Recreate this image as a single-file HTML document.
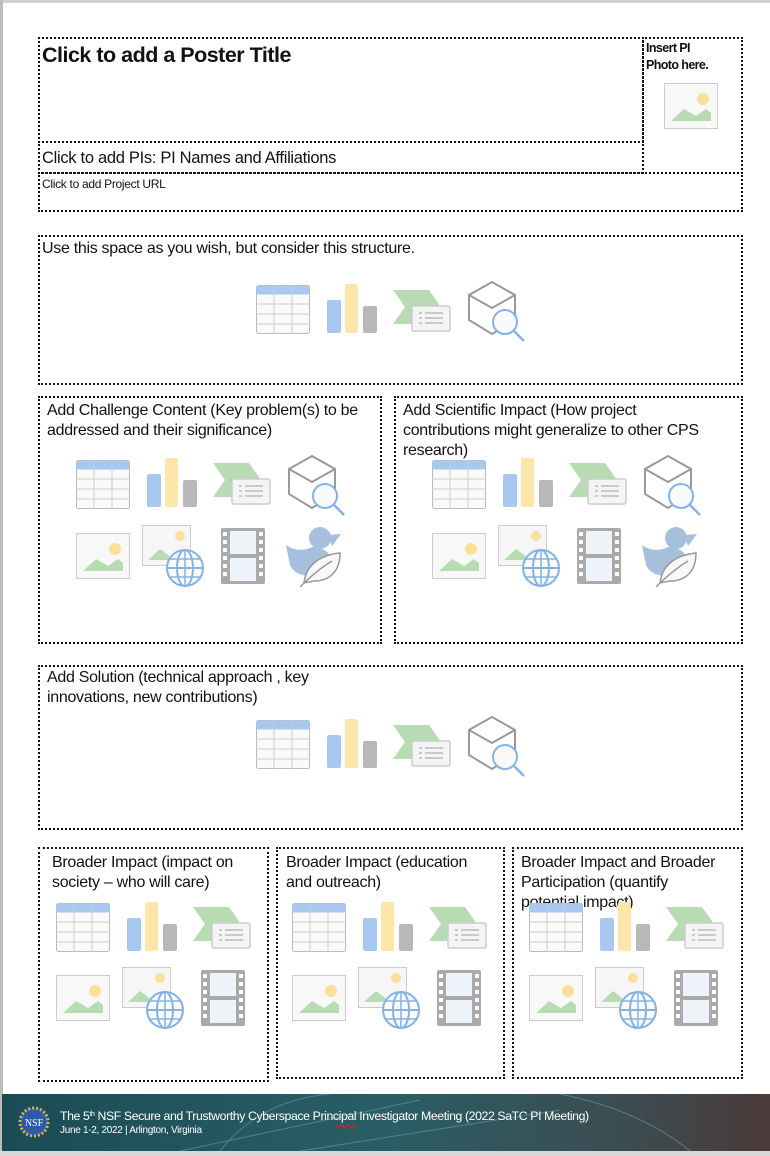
<!DOCTYPE html>
<html><head><meta charset="utf-8">
<style>
*{margin:0;padding:0;box-sizing:border-box}
body{width:770px;height:1156px;background:#fff;position:relative;overflow:hidden;font-family:"Liberation Sans",sans-serif;color:#111}
.b{position:absolute;border:2px dotted #111}
.t{position:absolute;font-size:16px;line-height:20px;letter-spacing:-0.3px;white-space:nowrap}
svg{position:absolute;left:0;top:0}
</style></head><body>
<div style="position:absolute;left:0;top:0;width:770px;height:3px;background:#d0d0d0"></div>
<div style="position:absolute;left:0;top:0;width:3px;height:1156px;background:#bdbdbd"></div>

<div class="b" style="left:38px;top:37px;width:606px;height:106px"></div>
<div class="b" style="left:642px;top:37px;width:101px;height:137px"></div>
<div class="b" style="left:38px;top:141px;width:606px;height:33px"></div>
<div class="b" style="left:38px;top:172px;width:705px;height:40px"></div>
<div class="b" style="left:38px;top:235px;width:705px;height:150px"></div>
<div class="b" style="left:38px;top:396px;width:344px;height:248px"></div>
<div class="b" style="left:394px;top:396px;width:349px;height:248px"></div>
<div class="b" style="left:38px;top:665px;width:705px;height:165px"></div>
<div class="b" style="left:38px;top:847px;width:231px;height:235px"></div>
<div class="b" style="left:276px;top:847px;width:229px;height:232px"></div>
<div class="b" style="left:512px;top:847px;width:231px;height:232px"></div>

<div class="t" style="left:42px;top:42px;font-size:21.5px;font-weight:bold;line-height:26px;letter-spacing:-0.5px">Click to add a Poster Title</div>
<div class="t" style="left:646px;top:40px;font-size:12.5px;font-weight:bold;line-height:17px;letter-spacing:-0.6px">Insert PI<br>Photo here.</div>
<div class="t" style="left:42px;top:148px;font-size:16.5px">Click to add PIs: PI Names and Affiliations</div>
<div class="t" style="left:42px;top:176px;font-size:12px;line-height:16px;letter-spacing:-0.3px">Click to add Project URL</div>
<div class="t" style="left:42px;top:239px">Use this space as you wish, but consider this structure.</div>
<div class="t" style="left:47px;top:401px">Add Challenge Content (Key problem(s) to be<br>addressed and their significance)</div>
<div class="t" style="left:403px;top:401px">Add Scientific Impact (How project<br>contributions might generalize to other CPS<br>research)</div>
<div class="t" style="left:47px;top:668px">Add Solution (technical approach , key<br>innovations, new contributions)</div>
<div class="t" style="left:52px;top:853px">Broader Impact (impact on<br>society – who will care)</div>
<div class="t" style="left:286px;top:853px">Broader Impact (education<br>and outreach)</div>
<div class="t" style="left:521px;top:853px">Broader Impact and Broader<br>Participation (quantify<br>potential impact)</div>

<svg width="770" height="1156" viewBox="0 0 770 1156">
<defs>
<symbol id="tbl" viewBox="0 0 54 49"><rect x="0.5" y="0.5" width="53" height="48" rx="2" fill="#fafafa" stroke="#bbb"/><rect x="0.5" y="0.5" width="53" height="9" rx="2" fill="#a8c8f0"/><g stroke="#ccc" stroke-width="1"><line x1="18" y1="0" x2="18" y2="49"/><line x1="36" y1="0" x2="36" y2="49"/><line x1="0" y1="19" x2="54" y2="19"/><line x1="0" y1="29" x2="54" y2="29"/><line x1="0" y1="39" x2="54" y2="39"/></g></symbol>
<symbol id="bar" viewBox="0 0 50 49"><rect x="0" y="16" width="14" height="33" rx="2" fill="#a8c8ef"/><rect x="18" y="0" width="13" height="49" rx="2" fill="#fde6a9"/><rect x="36" y="22" width="14" height="27" rx="2" fill="#b8b8b8"/></symbol>
<symbol id="chev" viewBox="0 0 58 42"><polygon points="0,0 36,0 46,14 46,34 0,34 12,17" fill="#b9dbb3"/><rect x="19" y="16" width="38" height="25" rx="2" fill="#f4f4f4" stroke="#ccc" stroke-width="1.5"/><g stroke="#bbb" stroke-width="1.5"><line x1="26" y1="23" x2="29" y2="23"/><line x1="32" y1="23" x2="50" y2="23"/><line x1="26" y1="28" x2="29" y2="28"/><line x1="32" y1="28" x2="50" y2="28"/><line x1="26" y1="33" x2="29" y2="33"/><line x1="32" y1="33" x2="50" y2="33"/></g></symbol>
<symbol id="cube" viewBox="0 0 60 62"><polygon points="25,2 48,15 48,40 25,54 2,40 2,15" fill="none" stroke="#999" stroke-width="2"/><polyline points="2,15 25,28 48,15 M25,28 25,40" fill="none" stroke="#999" stroke-width="2"/><circle cx="38" cy="42" r="12" fill="#fafafa" stroke="#84b3e3" stroke-width="2"/><line x1="47" y1="51" x2="57" y2="61" stroke="#84b3e3" stroke-width="2.5"/></symbol>
<symbol id="img" viewBox="0 0 54 46"><rect x="0.5" y="0.5" width="53" height="45" fill="#f8f8f8" stroke="#ccc"/><circle cx="39" cy="16" r="6" fill="#fbdf9a"/><polygon points="7,38 20,26 32,33 42,26 47,30 47,38" fill="#b9dbb3"/></symbol>
<symbol id="glb" viewBox="0 0 62 62"><rect x="0.5" y="0.5" width="48" height="40" fill="#f6f6f6" stroke="#ccc"/><circle cx="38" cy="11" r="5" fill="#fbdf9a"/><polygon points="6,35 18,24 26,30 30,35" fill="#b9dbb3"/><circle cx="43" cy="43" r="18" fill="#fafafa" stroke="#84b3e3" stroke-width="2"/><ellipse cx="43" cy="43" rx="8" ry="18" fill="none" stroke="#84b3e3" stroke-width="2"/><line x1="25" y1="43" x2="61" y2="43" stroke="#84b3e3" stroke-width="2"/><line x1="28" y1="34" x2="58" y2="34" stroke="#84b3e3" stroke-width="1.5"/><line x1="28" y1="52" x2="58" y2="52" stroke="#84b3e3" stroke-width="1.5"/><line x1="43" y1="25" x2="43" y2="61" stroke="#84b3e3" stroke-width="1.5"/></symbol>
<symbol id="film" viewBox="0 0 44 56"><rect x="0" y="0" width="44" height="56" rx="2" fill="#aaa"/><rect x="9" y="3" width="26" height="23" fill="#eef3fa"/><rect x="9" y="30" width="26" height="23" fill="#eef3fa"/><g fill="#fff"><rect x="2" y="4" width="4" height="4"/><rect x="2" y="12" width="4" height="4"/><rect x="2" y="20" width="4" height="4"/><rect x="2" y="28" width="4" height="4"/><rect x="2" y="36" width="4" height="4"/><rect x="2" y="44" width="4" height="4"/><rect x="38" y="4" width="4" height="4"/><rect x="38" y="12" width="4" height="4"/><rect x="38" y="20" width="4" height="4"/><rect x="38" y="28" width="4" height="4"/><rect x="38" y="36" width="4" height="4"/><rect x="38" y="44" width="4" height="4"/></g></symbol>
<symbol id="duck" viewBox="0 0 56 62"><circle cx="34" cy="13" r="11" fill="#a5bfdc"/><polygon points="42,10 55,9 46,21" fill="#a5bfdc"/><path d="M0,20 C8,26 18,26 26,22 C40,22 50,32 44,44 C34,54 10,54 4,40 Z" fill="#a5bfdc"/><path d="M18,58 C20,40 34,30 54,28 C54,46 44,56 28,56 Z" fill="#f8f8f8" stroke="#999" stroke-width="1.5"/><path d="M14,62 C26,50 36,42 46,36" fill="none" stroke="#999" stroke-width="1.5"/></symbol>
<linearGradient id="ft" x1="0" x2="1"><stop offset="0" stop-color="#1b4c55"/><stop offset="0.5" stop-color="#2a5e66"/><stop offset="0.8" stop-color="#3b4d52"/><stop offset="1" stop-color="#4a3a3a"/></linearGradient>
</defs>

<use href="#tbl" x="256" y="285" width="54" height="49"/><use href="#bar" x="327" y="284" width="50" height="49"/><use href="#chev" x="393" y="290" width="58" height="42"/><use href="#cube" x="467" y="280" width="60" height="62"/>
<use href="#tbl" x="76" y="460" width="54" height="49"/><use href="#bar" x="147" y="458" width="50" height="49"/><use href="#chev" x="213" y="463" width="58" height="42"/><use href="#cube" x="287" y="454" width="60" height="62"/>
<use href="#img" x="76" y="533" width="54" height="46"/><use href="#glb" x="142" y="525" width="62" height="62"/><use href="#film" x="221" y="528" width="44" height="56"/><use href="#duck" x="286" y="525" width="56" height="62"/>
<use href="#tbl" x="432" y="460" width="54" height="49"/><use href="#bar" x="503" y="458" width="50" height="49"/><use href="#chev" x="569" y="463" width="58" height="42"/><use href="#cube" x="643" y="454" width="60" height="62"/>
<use href="#img" x="432" y="533" width="54" height="46"/><use href="#glb" x="498" y="525" width="62" height="62"/><use href="#film" x="577" y="528" width="44" height="56"/><use href="#duck" x="642" y="525" width="56" height="62"/>
<use href="#tbl" x="256" y="720" width="54" height="49"/><use href="#bar" x="327" y="719" width="50" height="49"/><use href="#chev" x="393" y="725" width="58" height="42"/><use href="#cube" x="467" y="715" width="60" height="62"/>
<use href="#tbl" x="56" y="903" width="54" height="49"/><use href="#bar" x="127" y="902" width="50" height="49"/><use href="#chev" x="193" y="907" width="58" height="42"/>
<use href="#img" x="56" y="975" width="54" height="46"/><use href="#glb" x="122" y="967" width="62" height="62"/><use href="#film" x="201" y="970" width="44" height="56"/>
<use href="#tbl" x="292" y="903" width="54" height="49"/><use href="#bar" x="363" y="902" width="50" height="49"/><use href="#chev" x="429" y="907" width="58" height="42"/>
<use href="#img" x="292" y="975" width="54" height="46"/><use href="#glb" x="358" y="967" width="62" height="62"/><use href="#film" x="437" y="970" width="44" height="56"/>
<use href="#tbl" x="529" y="903" width="54" height="49"/><use href="#bar" x="600" y="902" width="50" height="49"/><use href="#chev" x="666" y="907" width="58" height="42"/>
<use href="#img" x="529" y="975" width="54" height="46"/><use href="#glb" x="595" y="967" width="62" height="62"/><use href="#film" x="674" y="970" width="44" height="56"/>
<use href="#img" x="664" y="83" width="54" height="46"/>

<rect x="0" y="1150" width="770" height="6" fill="#d8d8d8"/>
<rect x="2" y="1094" width="768" height="57" fill="url(#ft)"/>
<g stroke="#6fb3b8" stroke-width="1" opacity="0.5" fill="none"><path d="M180,1151 L420,1100"/><path d="M300,1151 L560,1110"/><path d="M220,1151 Q260,1100 330,1094"/><path d="M690,1151 Q640,1110 560,1094"/></g>
<circle cx="34" cy="1122" r="14" fill="#2d5aa8" stroke="#d8b84a" stroke-width="3" stroke-dasharray="2 2"/>
<text x="34" y="1126" font-family="Liberation Serif,serif" font-size="10" fill="#fff" text-anchor="middle">NSF</text>
<text x="60" y="1120" font-family="Liberation Sans,sans-serif" font-size="12.3" fill="#fff" letter-spacing="-0.4">The 5<tspan font-size="7" dy="-4">th</tspan><tspan dy="4"> NSF Secure and Trustworthy Cyberspace Principal Investigator Meeting (2022 SaTC PI Meeting)</tspan></text>
<text x="60" y="1133" font-family="Liberation Sans,sans-serif" font-size="10" fill="#fff" letter-spacing="-0.3">June 1-2, 2022  |  Arlington, Virginia</text>
<path d="M336,1125 l3,3 l3,-3 l3,3 l3,-3 l3,3 l3,-3 l3,3" stroke="#e02020" stroke-width="1.2" fill="none"/>
</svg>
</body></html>
